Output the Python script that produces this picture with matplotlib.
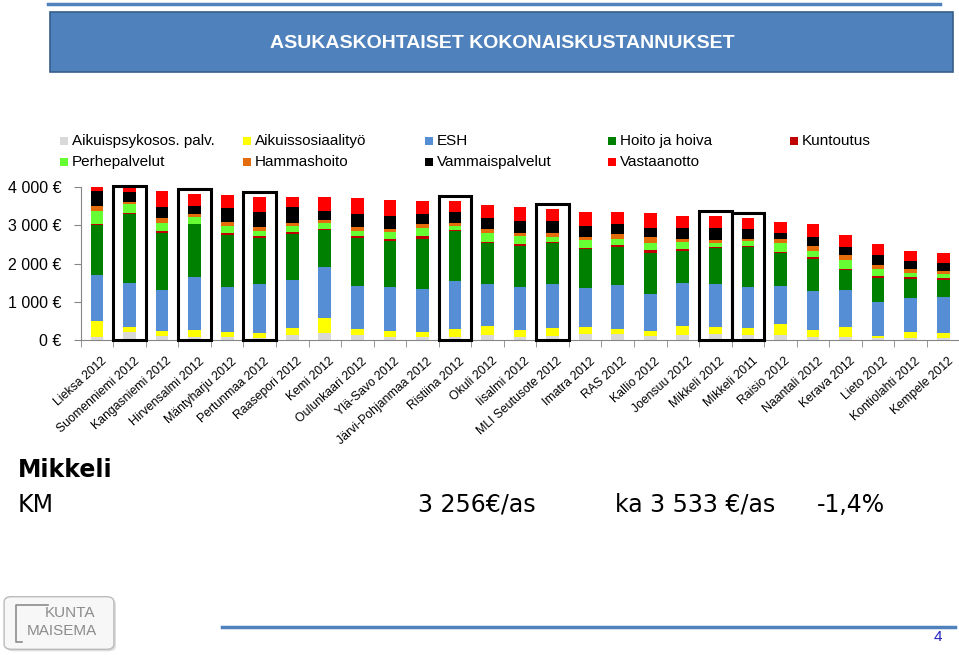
import matplotlib
matplotlib.use('Agg')
import matplotlib.pyplot as plt
import matplotlib.patches as mpatches
from matplotlib.transforms import ScaledTranslation
import numpy as np

plt.rcParams['font.family'] = ['Liberation Sans', 'DejaVu Sans']

# Kunnat / alueet
kunnat = ['Lieksa 2012', 'Suomenniemi 2012', 'Kangasniemi 2012', 'Hirvensalmi 2012',
          'Mäntyharju 2012', 'Pertunmaa 2012', 'Raasepori 2012', 'Kemi 2012',
          'Oulunkaari 2012', 'Ylä-Savo 2012', 'Järvi-Pohjanmaa 2012', 'Ristiina 2012',
          'Okuli 2012', 'Iisalmi 2012', 'MLI Seutusote 2012', 'Imatra 2012', 'RAS 2012',
          'Kallio 2012', 'Joensuu 2012', 'Mikkeli 2012', 'Mikkeli 2011', 'Raisio 2012',
          'Naantali 2012', 'Kerava 2012', 'Lieto 2012', 'Kontiolahti 2012', 'Kempele 2012']

# euroa / asukas, luettu kuvasta
aikuispsyk = [90, 220, 105, 70, 70, 44, 131, 192, 122, 70, 87, 87, 122, 70, 105, 157, 157,
              105, 122, 157, 122, 122, 87, 87, 44, 61, 52]
aikuissos = [410, 130, 140, 190, 148, 131, 192, 376, 166, 175, 131, 193, 245, 192, 201, 192,
             123, 140, 245, 192, 192, 297, 175, 262, 70, 149, 140]
esh = [1190, 1150, 1065, 1400, 1162, 1284, 1249, 1353, 1136, 1135, 1110, 1266, 1100, 1118,
       1153, 1022, 1161, 952, 1118, 1110, 1083, 996, 1031, 961, 873, 882, 943]
hoito = [1320, 1790, 1485, 1370, 1371, 1205, 1205, 961, 1240, 1223, 1318, 1319, 1066, 1083,
         1074, 1013, 1004, 1091, 856, 943, 1048, 873, 838, 524, 646, 515, 437]
kuntoutus = [35, 25, 70, 20, 44, 61, 44, 35, 61, 43, 79, 20, 35, 52, 35, 26, 53, 70, 35, 35,
             27, 26, 35, 35, 44, 52, 44]
perhe = [340, 235, 210, 185, 192, 140, 166, 140, 140, 175, 201, 102, 227, 210, 139, 210, 157,
         192, 192, 113, 113, 219, 175, 227, 175, 105, 105]
hammas = [115, 60, 115, 70, 113, 104, 87, 87, 87, 79, 113, 70, 105, 70, 88, 87, 114, 140, 70,
          70, 70, 105, 122, 122, 104, 88, 96]
vammais = [410, 265, 305, 210, 350, 376, 402, 236, 349, 358, 262, 288, 288, 332, 314, 280, 262,
           236, 288, 306, 253, 174, 244, 227, 271, 218, 209]
vastaanotto = [150, 180, 420, 315, 350, 410, 262, 358, 411, 410, 350, 306, 340, 366, 323, 375,
               314, 410, 332, 330, 280, 288, 332, 306, 288, 271, 262]

sarjat = ['Aikuispsykosos. palv.', 'Aikuissosiaalityö', 'ESH', 'Hoito ja hoiva', 'Kuntoutus',
          'Perhepalvelut', 'Hammashoito', 'Vammaispalvelut', 'Vastaanotto']
arvot = [aikuispsyk, aikuissos, esh, hoito, kuntoutus, perhe, hammas, vammais, vastaanotto]
varit = ['#D9D9D9', '#FFFF00', '#558ED5', '#008000', '#C00000', '#66FF33', '#E46C0A',
         '#000000', '#FF0000']

korostetut = ['Suomenniemi 2012', 'Hirvensalmi 2012', 'Pertunmaa 2012', 'Ristiina 2012',
              'MLI Seutusote 2012', 'Mikkeli 2012', 'Mikkeli 2011']

W, H = 959, 655
fig = plt.figure(figsize=(W / 100, H / 100), dpi=100)


def fx(x):
    return x / W


def fy(y):
    return 1 - y / H


# otsikkopalkki
fig.add_artist(plt.Line2D([fx(48), fx(940)], [fy(4), fy(4)], color='#4F81BD', lw=2.5))
fig.add_artist(mpatches.Rectangle((fx(50), fy(72)), fx(953) - fx(50), fy(12) - fy(72),
                                  facecolor='#4F81BD', edgecolor='#385D8A', lw=1.2))
fig.text(fx(502), fy(43), 'ASUKASKOHTAISET KOKONAISKUSTANNUKSET', color='white',
         fontsize=14, fontweight='bold', ha='center', va='center')

# kaavio
ax = fig.add_axes([fx(80.7), fy(340), fx(959.5) - fx(80.7), fy(187.3) - fy(340)])
x = np.arange(len(kunnat))
pohja = np.zeros(len(kunnat))
for nimi, v, c in zip(sarjat, arvot, varit):
    ax.bar(x, v, bottom=pohja, width=0.39, color=c, label=nimi, zorder=2)
    pohja += np.array(v)

ax.set_xlim(-0.5, len(kunnat) - 0.5)
ax.set_ylim(0, 4000)

for nimi in korostetut:
    i = kunnat.index(nimi)
    korkeus = min(pohja[i] + 130, 4030)
    ax.add_patch(mpatches.Rectangle((i - 0.5, 0), 1, korkeus, fill=False, edgecolor='black',
                                    lw=2.2, clip_on=False, zorder=4))

ax.set_yticks([0, 1000, 2000, 3000, 4000])
ax.set_yticklabels(['0 €', '1 000 €', '2 000 €', '3 000 €', '4 000 €'], fontsize=11.5)
ax.tick_params(axis='y', length=5, pad=9, color='#868686')
ax.set_xticks(x)
ax.set_xticklabels(kunnat, rotation=42, ha='right', rotation_mode='anchor', fontsize=8.8)
ax.tick_params(axis='x', which='major', length=0, pad=11)
siirto = ScaledTranslation(4 / 100, 0, fig.dpi_scale_trans)
for lbl in ax.get_xticklabels():
    lbl.set_transform(lbl.get_transform() + siirto)
ax.set_xticks(np.arange(len(kunnat) + 1) - 0.5, minor=True)
ax.tick_params(axis='x', which='minor', length=5, color='#868686')
for s in ['top', 'right']:
    ax.spines[s].set_visible(False)
ax.spines['left'].set_color('#868686')
ax.spines['bottom'].set_color('#868686')

# selite
for i, (nimi, c) in enumerate(zip(sarjat, varit)):
    sx = 60 + (i % 5) * 182.5
    sy = 141 + (i // 5) * 21
    fig.add_artist(mpatches.Rectangle((fx(sx), fy(sy + 4)), fx(8), fy(0) - fy(8),
                                      facecolor=c, edgecolor='none'))
    fig.text(fx(sx + 12), fy(sy), nimi, fontsize=11, va='center', ha='left')

# alateksti
fig.text(fx(18), fy(470), 'Mikkeli', fontsize=17, fontweight='bold', va='center',
         family='DejaVu Sans')
fig.text(fx(18), fy(505), 'KM', fontsize=17, va='center', family='DejaVu Sans')
fig.text(fx(418), fy(505), '3 256€/as', fontsize=17, va='center', family='DejaVu Sans')
fig.text(fx(615), fy(505), 'ka 3 533 €/as', fontsize=17, va='center', family='DejaVu Sans')
fig.text(fx(817), fy(505), '-1,4%', fontsize=17, va='center', family='DejaVu Sans')

# logo ja alapalkki
fig.add_artist(mpatches.FancyBboxPatch((fx(8), fy(650)), fx(106), fy(598) - fy(648),
                                       boxstyle='round,pad=0.002,rounding_size=0.008',
                                       facecolor='#DDDDDD', edgecolor='none'))
fig.add_artist(mpatches.FancyBboxPatch((fx(6), fy(648)), fx(106), fy(598) - fy(648),
                                       boxstyle='round,pad=0.002,rounding_size=0.008',
                                       facecolor='#F7F7F7', edgecolor='#BBBBBB', lw=1))
fig.text(fx(70), fy(613), 'KUNTA', fontsize=11, color='#8C8C8C', ha='center', va='center')
fig.text(fx(62), fy(631), 'MAISEMA', fontsize=11, color='#8C8C8C', ha='center', va='center')
fig.add_artist(plt.Line2D([fx(48), fx(16), fx(16), fx(22)], [fy(605), fy(605), fy(642), fy(642)],
                          color='#8C8C8C', lw=1.2))
fig.add_artist(plt.Line2D([fx(222), fx(955)], [fy(627), fy(627)], color='#4F81BD', lw=2.5))
fig.text(fx(938), fy(637), '4', fontsize=11, color='#1F1FBF', ha='center', va='center')

fig.savefig('out.png', dpi=100)
